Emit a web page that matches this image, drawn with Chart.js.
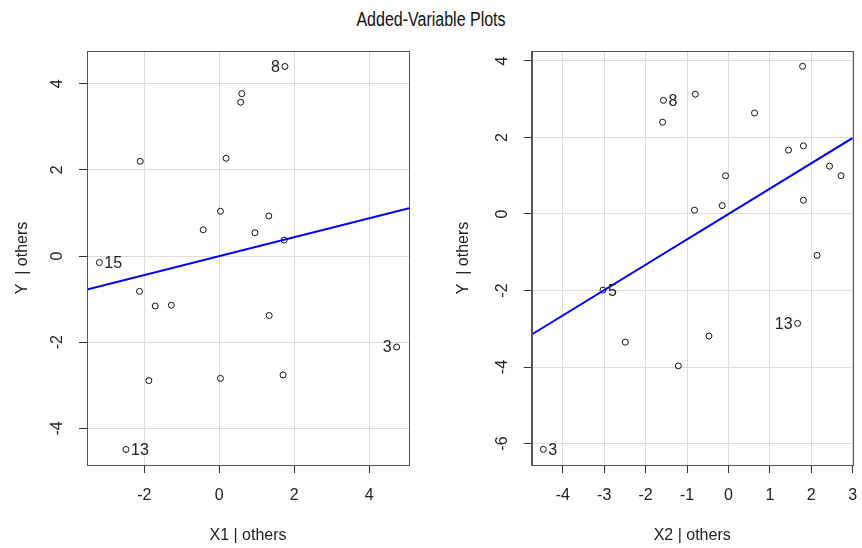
<!DOCTYPE html>
<html>
<head>
<meta charset="utf-8">
<title>Added-Variable Plots</title>
<script src="https://cdn.jsdelivr.net/npm/chart.js@4.4.1/dist/chart.umd.min.js"></script>
<style>
  html, body { margin: 0; padding: 0; background: #fff; }
  #wrap { position: relative; width: 862px; height: 548px; overflow: hidden; }
  #title {
    position: absolute; left: 0; top: 9px; width: 862px; text-align: center;
    font: 20px 'Liberation Sans', Arial, sans-serif;
    line-height: 20px; color: #111;
    transform: scaleX(0.8); transform-origin: 431px 0;
  }
  canvas { position: absolute; top: 0; }
  #c1 { left: 0; }
  #c2 { left: 431px; }
</style>
</head>
<body>
<div id="wrap">
  <div id="title">Added-Variable Plots</div>
  <canvas id="c1" width="431" height="548"></canvas>
  <canvas id="c2" width="431" height="548"></canvas>
</div>
<script>
// ---- left panel: Y | others vs X1 | others ----
const x1 = [1.75, 0.60, 0.57, -2.11, 0.18, 0.03, 1.32, -0.43, 0.95, 1.73,
            -3.20, -2.13, -1.71, -1.28, 1.33, 4.73, -1.88, 0.03, 1.70, -2.49];
const y1 = [4.40, 3.77, 3.57, 2.20, 2.27, 1.04, 0.93, 0.61, 0.54, 0.37,
            -0.15, -0.82, -1.16, -1.14, -1.38, -2.11, -2.89, -2.84, -2.76, -4.49];
const lab1 = ['8', '', '', '', '', '', '', '', '', '',
              '15', '', '', '', '', '3', '', '', '', '13'];
const slope1 = 0.22;
const xLim1 = [-3.53, 5.06];
const yLim1 = [-4.85, 4.76];
const xTicks1 = [-2, 0, 2, 4];
const yTicks1 = [-4, -2, 0, 2, 4];

// ---- right panel: Y | others vs X2 | others ----
const x2 = [1.79, -1.57, -0.80, -1.59, 0.63, 1.45, 1.81, -0.07, 2.44, 2.72,
            -0.15, -0.82, 1.81, 2.14, -3.03, -2.49, -1.21, -0.47, 1.67, -4.47];
const y2 = [3.86, 2.97, 3.13, 2.40, 2.64, 1.67, 1.78, 1.00, 1.25, 1.00,
            0.22, 0.10, 0.36, -1.08, -1.99, -3.35, -3.97, -3.19, -2.86, -6.15];
const lab2 = ['', '8', '', '', '', '', '', '', '', '',
              '', '', '', '', '5', '', '', '', '13', '3'];
const slope2 = 0.663;
const xLim2 = [-4.75, 3.0];
const yLim2 = [-6.56, 4.26];
const xTicks2 = [-4, -3, -2, -1, 0, 1, 2, 3];
const yTicks2 = [-6, -4, -2, 0, 2, 4];

const FONT = "'Liberation Sans', Arial, sans-serif";
Chart.defaults.font.family = FONT;
Chart.defaults.color = '#222';

// frame round the plot region + point labels
const framePlugin = {
  id: 'frame',
  afterDatasetsDraw(chart, args, opts) {
    const { ctx, chartArea: a } = chart;
    const meta = chart.getDatasetMeta(1);
    ctx.save();
    ctx.font = `${opts.labelSize}px ${FONT}`;
    ctx.fillStyle = '#222';
    ctx.textBaseline = 'middle';
    opts.labels.forEach((t, i) => {
      if (!t) return;
      const el = meta.data[i];
      const side = opts.sides[t];
      ctx.textAlign = side === 'left' ? 'right' : 'left';
      ctx.fillText(t, el.x + (side === 'left' ? -5 : 5), el.y + 1);
    });
    ctx.strokeStyle = '#555';
    ctx.lineWidth = 1;
    ctx.strokeRect(Math.round(a.left) + 0.5, Math.round(a.top) + 0.5,
                   Math.round(a.right - a.left), Math.round(a.bottom - a.top));
    ctx.restore();
  }
};

function makePanel(id, xs, ys, labels, sides, slope, xLim, yLim, xTicks, yTicks, xTitle, yW, padRight, yTitlePad) {
  const pts = xs.map((x, i) => ({ x, y: ys[i] }));
  const fit = [{ x: xLim[0], y: slope * xLim[0] }, { x: xLim[1], y: slope * xLim[1] }];
  const gridOpts = { color: '#dcdcdc', lineWidth: 1, tickLength: 8, tickColor: '#333', drawTicks: true };
  return new Chart(document.getElementById(id), {
    type: 'scatter',
    data: {
      datasets: [
        { data: fit, showLine: true, borderColor: '#0000ff', borderWidth: 2, pointRadius: 0, fill: false },
        { data: pts, pointRadius: 3, pointBorderWidth: 1, pointBorderColor: '#111', pointBackgroundColor: 'rgba(0,0,0,0)' }
      ]
    },
    options: {
      responsive: false,
      animation: false,
      devicePixelRatio: 1,
      layout: { padding: { top: 51, right: padRight, bottom: 0, left: 0 } },
      plugins: {
        legend: { display: false },
        tooltip: { enabled: false },
        frame: { labels, sides, labelSize: 16 }
      },
      scales: {
        x: {
          type: 'linear', min: xLim[0], max: xLim[1],
          afterBuildTicks: s => { s.ticks = xTicks.map(v => ({ value: v })); },
          afterFit: s => { s.height = 83; s.paddingLeft = 0; s.paddingRight = 0; },
          grid: gridOpts,
          border: { color: '#555', width: 1 },
          ticks: { font: { size: 16 }, padding: 13, color: '#222', maxRotation: 0 },
          title: { display: true, text: xTitle, font: { size: 16 }, color: '#222', padding: { top: 0, bottom: 3 } }
        },
        y: {
          type: 'linear', min: yLim[0], max: yLim[1],
          afterBuildTicks: s => { s.ticks = yTicks.map(v => ({ value: v })); },
          afterFit: s => { s.width = yW; s.paddingTop = 0; s.paddingBottom = 0; },
          grid: gridOpts,
          border: { color: '#555', width: 1 },
          ticks: { font: { size: 16 }, padding: 14, color: '#222', minRotation: 90, maxRotation: 90, crossAlign: 'center' },
          title: { display: true, text: 'Y  | others', font: { size: 16 }, color: '#222', padding: { top: yTitlePad, bottom: 0 } }
        }
      }
    },
    plugins: [framePlugin]
  });
}

makePanel('c1', x1, y1, lab1, { '8': 'left', '15': 'right', '3': 'left', '13': 'right' },
          slope1, xLim1, yLim1, xTicks1, yTicks1, 'X1 | others', 87, 22, 13);
makePanel('c2', x2, y2, lab2, { '8': 'right', '5': 'right', '13': 'left', '3': 'right' },
          slope2, xLim2, yLim2, xTicks2, yTicks2, 'X2 | others', 100.7, 9.3, 23);
</script>
</body>
</html>
